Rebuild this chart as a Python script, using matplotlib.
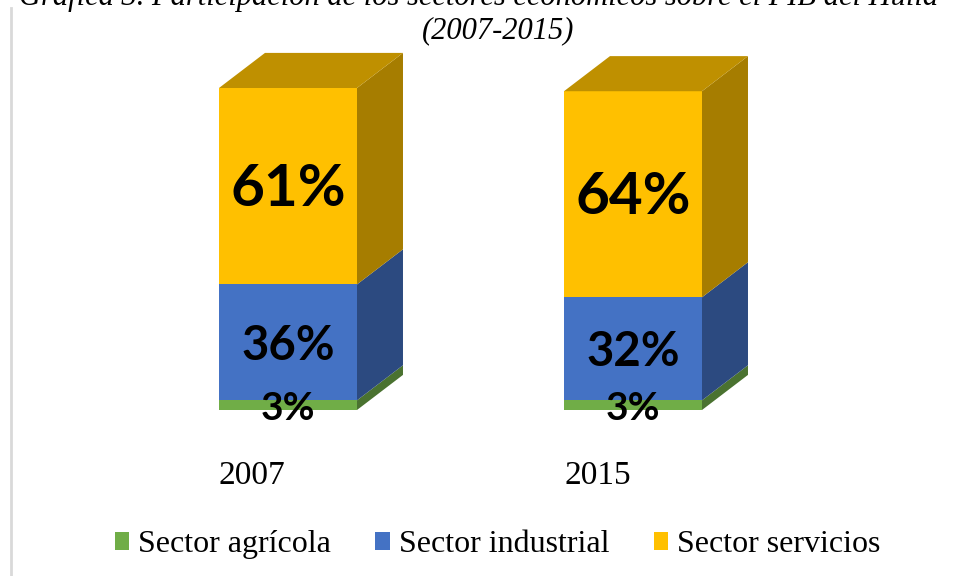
import matplotlib
matplotlib.use("Agg")
import matplotlib.pyplot as plt
from matplotlib.patches import Polygon, Patch
from matplotlib.lines import Line2D

# data
years = ["2007", "2015"]
sectors = ["Sector agrícola", "Sector industrial", "Sector servicios"]
agricola = [3, 3]
industrial = [36, 32]
servicios = [61, 64]
label_sizes = [28, 34, 42]

front = ["#70AD47", "#4472C4", "#FFC000"]
side = ["#4A7230", "#2C4A80", "#A67D00"]
top = ["#4F7A33", "#304F88", "#BF9000"]

W = 0.4      # front width in x units
DX = 0.1333  # depth offset x
DY = 10.9    # depth offset y (percent units)

fig = plt.figure(figsize=(9.57, 5.76), dpi=100)
ax = fig.add_axes([115.5 / 957, (576 - 410) / 576, 690 / 957, 322 / 576])
ax.set_xlim(-0.5, 1.5)
ax.set_ylim(0, 100)
ax.axis("off")

series = [agricola, industrial, servicios]
for i, yr in enumerate(years):
    base = 0
    x0, x1 = i - W / 2, i + W / 2
    for k, vals in enumerate(series):
        v = vals[i]
        y0, y1 = base, base + v
        # right side face
        ax.add_patch(Polygon([(x1, y0), (x1 + DX, y0 + DY), (x1 + DX, y1 + DY), (x1, y1)],
                             closed=True, fc=side[k], ec="none", clip_on=False))
        # front face
        ax.add_patch(Polygon([(x0, y0), (x1, y0), (x1, y1), (x0, y1)],
                             closed=True, fc=front[k], ec="none", clip_on=False))
        if k == len(series) - 1:
            ax.add_patch(Polygon([(x0, y1), (x1, y1), (x1 + DX, y1 + DY), (x0 + DX, y1 + DY)],
                                 closed=True, fc=top[k], ec="none", clip_on=False))
        ax.text(i, base + v / 2 - 1.0, f"{v}%", ha="center", va="center",
                fontsize=label_sizes[k], fontweight="bold", family="Lato", color="black")
        base = y1
    ax.text(x0, -20.5, yr, ha="left", va="center", fontsize=24,
            family="Liberation Serif", color="black")

# titles (first line cut off at the top, as in the source)
fig.text(0.5, 1 + 3 / 576, "Gráfica 3. Participación de los sectores económicos sobre el PIB del Huila",
         ha="center", va="center", fontsize=22, style="italic", family="Liberation Serif")
fig.text(498 / 957, 1 - 31 / 576, "(2007-2015)", ha="center", va="center",
         fontsize=22, style="italic", family="Liberation Serif")

# left border line
fig.add_artist(Line2D([11 / 957, 11 / 957], [0, 1 - 8 / 576], transform=fig.transFigure,
                      color="#d9d9d9", lw=2))

handles = [Patch(fc=c, ec="none") for c in front]
leg = fig.legend(handles, sectors, loc="center", bbox_to_anchor=(0.52, 0.054), ncol=3,
                 frameon=False, prop={"family": "Liberation Serif", "size": 23},
                 handlelength=0.45, handleheight=0.45, handletextpad=0.28, columnspacing=1.4)

fig.savefig("out.png", dpi=100)
